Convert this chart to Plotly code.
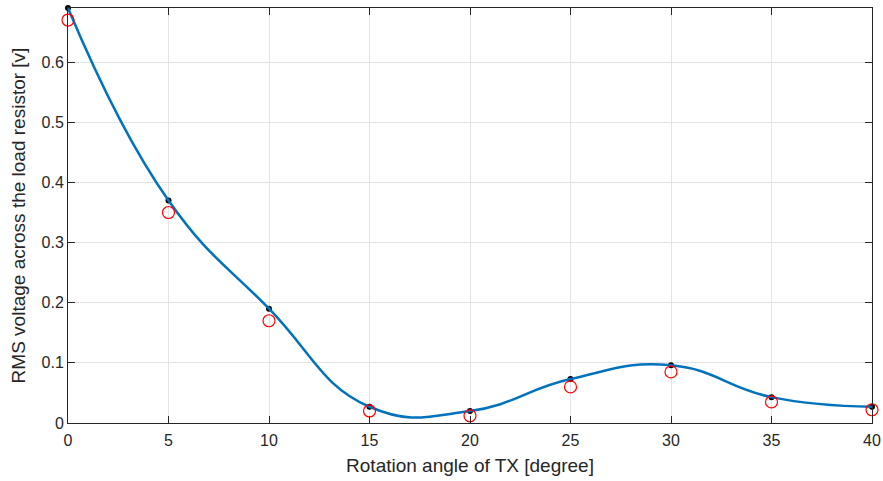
import plotly.graph_objects as go

angle = [0, 5, 10, 15, 20, 25, 30, 35, 40]
measured = [0.69, 0.37, 0.19, 0.027, 0.02, 0.073, 0.096, 0.043, 0.027]
simulated = [0.67, 0.35, 0.17, 0.02, 0.012, 0.06, 0.085, 0.035, 0.022]
x_ticks = [0, 5, 10, 15, 20, 25, 30, 35, 40]
y_ticks = [0, 0.1, 0.2, 0.3, 0.4, 0.5, 0.6]

fig = go.Figure()
fig.add_trace(go.Scatter(x=angle, y=measured, mode="markers", cliponaxis=False,
                         marker=dict(color="black", size=6), showlegend=False))
fig.add_trace(go.Scatter(x=angle, y=measured, mode="lines",
                         line=dict(color="#0072BD", width=2.5, shape="spline", smoothing=1.3),
                         showlegend=False))
fig.add_trace(go.Scatter(x=angle, y=simulated, mode="markers", cliponaxis=False,
                         marker=dict(symbol="circle-open", color="red", size=12,
                                     line=dict(width=1.2, color="red")),
                         showlegend=False))

font = "Liberation Sans, Arial, sans-serif"
axis_common = dict(showgrid=True, gridcolor="#e3e3e3", gridwidth=1, automargin=False,
                   showline=True, linecolor="#262626", linewidth=1, mirror="ticks",
                   ticks="inside", ticklen=7, tickcolor="#262626", zeroline=False,
                   tickfont=dict(family=font, size=16, color="#262626"))
fig.update_layout(
    width=883, height=481,
    margin=dict(l=68, r=11, t=8, b=58),
    plot_bgcolor="white", paper_bgcolor="white",
    xaxis=dict(range=[0, 40], tickvals=x_ticks, ticklabelstandoff=3,
               title=dict(text="Rotation angle of TX [degree]", standoff=10,
                          font=dict(family=font, size=19, color="#262626")),
               **axis_common),
    yaxis=dict(range=[0, 0.69], tickvals=y_ticks,
               ticktext=["0", "0.1", "0.2", "0.3", "0.4", "0.5", "0.6"],
               title=dict(text="RMS voltage across the load resistor [v]", standoff=10,
                          font=dict(family=font, size=19, color="#262626")),
               **axis_common),
)
fig.write_html("out.html", config={"displayModeBar": False},
               post_script="document.body.style.margin='0';")
